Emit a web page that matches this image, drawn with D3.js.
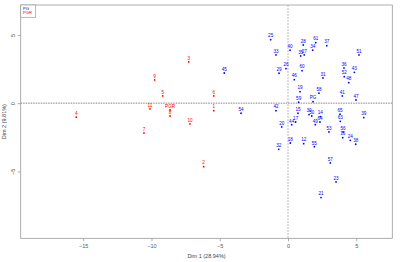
<!DOCTYPE html>
<html><head><meta charset="utf-8">
<script src="https://cdn.jsdelivr.net/npm/d3@7"></script>
<style>body{margin:0;background:#fff;}svg{display:block;font-family:"Liberation Sans",Arial,sans-serif;}</style>
</head><body>
<script>
// Individuals (group PGR, red)
const redLabels = ["1","2","3","4","5","6","7","8","9","10","11"];
const redX = [-5.44,-6.18,-7.27,-15.51,-9.18,-5.44,-10.55,-8.64,-9.77,-7.18,-10.11];
const redY = [-0.55,-4.65,3.02,-1.03,0.53,0.53,-2.18,-0.94,1.70,-1.52,-0.42];
// Individuals (group PG, blue)
const blueLabels = ["25","33","40","28","61","37","27","35","34","51","29","26","60","46","31","36","43","52","48","19","58","41","47","59","42","15","30","50","14","64","49","65","63","39","44","17","20","53","56","16","24","38","18","12","55","32","57","23","21","45","54"];
const blueX = [-1.27,-0.88,0.15,1.12,2.03,2.84,1.19,0.93,1.81,5.20,-0.66,-0.15,1.03,0.46,2.56,4.10,4.86,4.12,4.45,0.88,2.27,3.98,4.98,0.78,-0.88,0.73,1.54,1.74,2.37,2.34,2.00,3.81,3.83,5.55,0.27,0.56,-0.46,3.00,4.03,4.01,4.56,4.96,0.17,1.15,1.93,-0.68,3.10,3.52,2.42,-4.67,-3.44];
const blueY = [4.65,3.53,3.88,4.26,4.43,4.21,3.53,3.46,3.88,3.53,2.19,2.53,2.38,1.72,1.85,2.58,2.26,1.94,1.50,0.84,0.73,0.53,0.23,0.07,-0.55,-0.74,-0.84,-0.94,-0.99,-1.38,-1.58,-0.81,-1.33,-1.06,-1.58,-1.38,-1.74,-2.11,-2.11,-2.53,-2.72,-3.01,-2.92,-2.97,-3.19,-3.38,-4.38,-5.77,-6.92,2.21,-0.74];
// Category centroids
const groupNames = ["PG","PGR"];
const groupX = [1.83,-8.64];
const groupY = [0.11,-0.50];
const groupColors = ["#0000ff","#ff0000"];
const xTicks = [-15,-10,-5,0,5];
const yTicks = [-5,0,5];
const xTitle = "Dim 1 (28.94%)";
const yTitle = "Dim 2 (9.81%)";

const W=400,H=262;
const L=20.7,R=392.3,T=5,B=238.3;
const x = d3.scaleLinear().domain([-19.58,7.64]).range([L,R]);
const y = d3.scaleLinear().domain([-9.90,7.19]).range([B,T]);

const svg = d3.select("body").append("svg").attr("width",W).attr("height",H);

// zero lines
svg.append("line").attr("x1",x(0)).attr("x2",x(0)).attr("y1",T).attr("y2",B)
  .attr("stroke","#c8c8c8").attr("stroke-width",1.2).attr("stroke-dasharray","2,1");
svg.append("line").attr("x1",L).attr("x2",R).attr("y1",y(0)).attr("y2",y(0))
  .attr("stroke","#666").attr("stroke-width",0.8).attr("stroke-dasharray","1.5,1");

// frame
svg.append("rect").attr("x",L).attr("y",T).attr("width",R-L).attr("height",B-T)
  .attr("fill","none").attr("stroke","#999").attr("stroke-width",0.8);

// axes
const xa = svg.append("g").attr("transform",`translate(0,${B})`)
  .call(d3.axisBottom(x).tickValues(xTicks).tickSize(3).tickPadding(3).tickFormat(d3.format("d")));
const ya = svg.append("g").attr("transform",`translate(${L},0)`)
  .call(d3.axisLeft(y).tickValues(yTicks).tickSize(3).tickPadding(3).tickFormat(d3.format("d")));
[xa,ya].forEach(g=>{
  g.select(".domain").remove();
  g.selectAll("line").attr("stroke","#999").attr("stroke-width",0.8);
  g.selectAll("text").attr("font-size",5.5).attr("fill","#555").attr("font-family","Liberation Sans, Arial, sans-serif");
});
ya.selectAll("text").attr("text-anchor","middle").attr("x",0).attr("y",0).attr("dy","0.35em")
  .attr("transform","translate(-8,0) rotate(-90)");

// axis titles
svg.append("text").attr("x",(L+R)/2).attr("y",258).attr("text-anchor","middle")
  .attr("font-size",5.5).attr("fill","#444").text(xTitle);
svg.append("text").attr("transform",`translate(6,${(T+B)/2}) rotate(-90)`).attr("text-anchor","middle")
  .attr("font-size",5.5).attr("fill","#444").text(yTitle);

function drawPoints(labels,xs,ys,colorFn){
  const g = svg.append("g");
  g.selectAll("circle").data(labels).join("circle")
    .attr("cx",(d,i)=>x(xs[i])).attr("cy",(d,i)=>y(ys[i])).attr("r",0.9).attr("fill",colorFn);
  g.selectAll("text").data(labels).join("text")
    .attr("x",(d,i)=>x(xs[i])).attr("y",(d,i)=>y(ys[i])-2.2).attr("text-anchor","middle")
    .attr("font-size",4.6).attr("fill",colorFn).text(d=>d);
}
drawPoints(redLabels,redX,redY,()=>"#ff0000");
drawPoints(blueLabels,blueX,blueY,()=>"#0000ff");
drawPoints(groupNames,groupX,groupY,(d,i)=>groupColors[i]);

// legend
const lg = svg.append("g");
lg.append("rect").attr("x",L).attr("y",T).attr("width",15).attr("height",12.3)
  .attr("fill","#fff").attr("stroke","#999").attr("stroke-width",0.7);
lg.selectAll("text").data(groupNames).join("text")
  .attr("x",L+2.3).attr("y",(d,i)=>T+5+i*4.2).attr("font-size",4.2)
  .attr("fill",(d,i)=>groupColors[i]).text(d=>d);
</script>
</body></html>
